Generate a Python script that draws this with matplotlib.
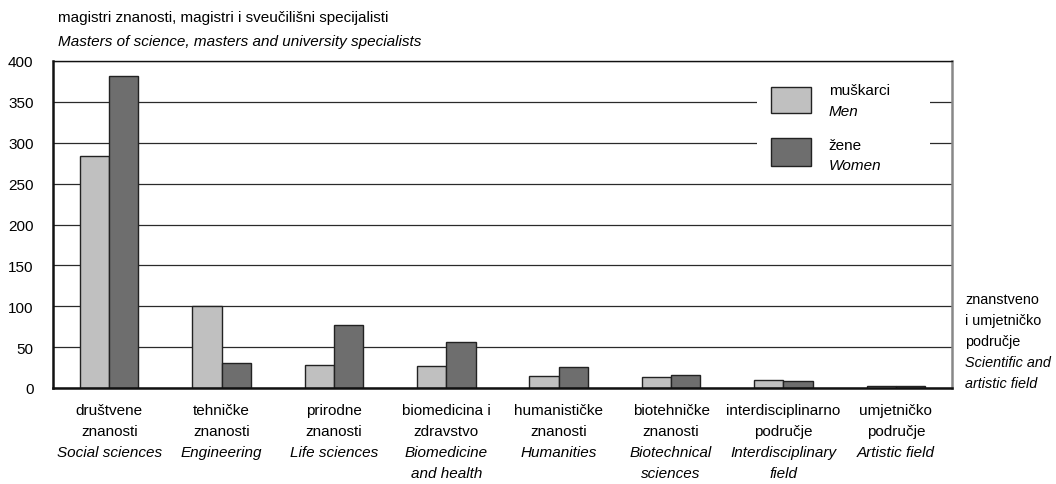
import numpy as np
import matplotlib
matplotlib.use("Agg")
import matplotlib.pyplot as plt
from matplotlib.patches import Rectangle

# ----------------------------- data -----------------------------
cat_hr = ["društvene\nznanosti", "tehničke\nznanosti", "prirodne\nznanosti",
          "biomedicina i\nzdravstvo", "humanističke\nznanosti", "biotehničke\nznanosti",
          "interdisciplinarno\npodručje", "umjetničko\npodručje"]
cat_en = ["Social sciences", "Engineering", "Life sciences", "Biomedicine\nand health",
          "Humanities", "Biotechnical\nsciences", "Interdisciplinary\nfield", "Artistic field"]
men = [284, 100, 28, 27, 15, 13, 10, 3]
women = [382, 31, 77, 56, 26, 16, 8, 3]
yticks = [0, 50, 100, 150, 200, 250, 300, 350, 400]

C_MEN = "#c0c0c0"
C_WOMEN = "#6e6e6e"
FONT = "Liberation Sans"
FS = 11

plt.rcParams["font.family"] = [FONT, "DejaVu Sans"]

fig = plt.figure(figsize=(10.56, 4.85), dpi=100)
ax = fig.add_axes([53 / 1056, 1 - 389 / 485, 899 / 1056, 327 / 485])

x = np.arange(len(men))
w = 0.26
ax.bar(x - w / 2, men, w, color=C_MEN, edgecolor="#222222", linewidth=1.0, zorder=3)
ax.bar(x + w / 2, women, w, color=C_WOMEN, edgecolor="#222222", linewidth=1.0, zorder=3)

ax.set_xlim(-0.5, len(men) - 0.5)
ax.set_ylim(0, 400)
ax.set_yticks(yticks)
ax.set_yticklabels([str(v) for v in yticks], fontsize=FS)
ax.tick_params(axis="y", length=0, pad=14)
ax.set_xticks([])
ax.yaxis.grid(True, color="#2a2a2a", linewidth=0.9, zorder=0)
ax.set_axisbelow(True)
for s in ["left", "bottom"]:
    ax.spines[s].set_linewidth(1.8)
    ax.spines[s].set_color("#111111")
    ax.spines[s].set_zorder(4)
ax.spines["top"].set_linewidth(1.0)
ax.spines["top"].set_color("#111111")
ax.spines["right"].set_linewidth(1.8)
ax.spines["right"].set_color("#888888")

# category labels: Croatian lines normal, English lines italic
tr = ax.get_xaxis_transform()
y0, step = -0.067, -0.0645
for i in range(len(cat_hr)):
    hr = cat_hr[i].split("\n")
    en = cat_en[i].split("\n")
    for j, line in enumerate(hr):
        ax.text(x[i], y0 + step * j, line, transform=tr, ha="center", va="center", fontsize=FS)
    for j, line in enumerate(en):
        ax.text(x[i], y0 + step * (len(hr) + j), line, transform=tr, ha="center", va="center",
                fontsize=FS, style="italic")

# legend (white box that breaks the gridlines)
ax.add_patch(Rectangle((0.783, 0.654), 0.1925, 0.32, transform=ax.transAxes,
                       facecolor="white", edgecolor="none", zorder=1))
ax.add_patch(Rectangle((0.799, 0.841), 0.0445, 0.079, transform=ax.transAxes,
                       facecolor=C_MEN, edgecolor="#222222", linewidth=1.0, zorder=2))
ax.add_patch(Rectangle((0.799, 0.679), 0.0445, 0.086, transform=ax.transAxes,
                       facecolor=C_WOMEN, edgecolor="#222222", linewidth=1.0, zorder=2))
ax.text(0.863, 0.911, "muškarci", transform=ax.transAxes, va="center", fontsize=FS)
ax.text(0.863, 0.847, "Men", transform=ax.transAxes, va="center", fontsize=FS, style="italic")
ax.text(0.863, 0.743, "žene", transform=ax.transAxes, va="center", fontsize=FS)
ax.text(0.863, 0.682, "Women", transform=ax.transAxes, va="center", fontsize=FS, style="italic")

# titles
fig.text(58 / 1056, 1 - 18 / 485, "magistri znanosti, magistri i sveučilišni specijalisti",
         va="center", fontsize=FS)
fig.text(58 / 1056, 1 - 42 / 485, "Masters of science, masters and university specialists",
         va="center", fontsize=FS, style="italic")

# right axis caption (slightly smaller so it fits the canvas)
right_lines = [("znanstveno", "normal"), ("i umjetničko", "normal"), ("područje", "normal"),
               ("Scientific and", "italic"), ("artistic field", "italic")]
for k, (txt, st) in enumerate(right_lines):
    fig.text(965 / 1056, 1 - (300 + 21 * k) / 485, txt, va="center", fontsize=10.4, style=st)

fig.savefig("out.png", dpi=100, facecolor="white")
